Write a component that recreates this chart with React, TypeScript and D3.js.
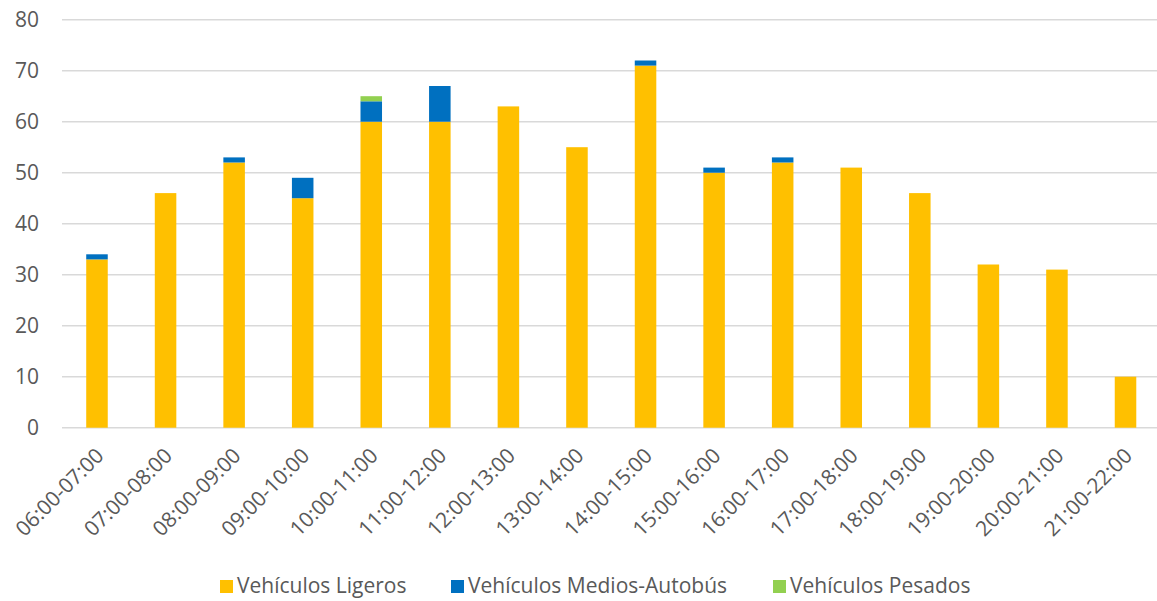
import React from "react";
import * as d3 from "d3";

const categories = [
  "06:00-07:00", "07:00-08:00", "08:00-09:00", "09:00-10:00",
  "10:00-11:00", "11:00-12:00", "12:00-13:00", "13:00-14:00",
  "14:00-15:00", "15:00-16:00", "16:00-17:00", "17:00-18:00",
  "18:00-19:00", "19:00-20:00", "20:00-21:00", "21:00-22:00",
];
const ligeros = [33, 46, 52, 45, 60, 60, 63, 55, 71, 50, 52, 51, 46, 32, 31, 10];
const medios = [1, 0, 1, 4, 4, 7, 0, 0, 1, 1, 1, 0, 0, 0, 0, 0];
const pesados = [0, 0, 0, 0, 1, 0, 0, 0, 0, 0, 0, 0, 0, 0, 0, 0];
const seriesNames = ["Vehículos Ligeros", "Vehículos Medios-Autobús", "Vehículos Pesados"];
const seriesColors = ["#FFC000", "#0070C0", "#92D050"];
const yTicks = [0, 10, 20, 30, 40, 50, 60, 70, 80];

const W = 1157;
const H = 601;
const FONT = "'Open Sans', sans-serif";
const TEXT = "#595959";

export default function App() {
  const x = d3.scaleBand<string>().domain(categories).range([62.7, 1159.8]).padding(0);
  const y = d3.scaleLinear().domain([0, 80]).range([427.7, 19.7]);
  const barW = x.step() * 0.314;

  const table = categories.map((c, i) => ({ cat: c, l: ligeros[i], m: medios[i], p: pesados[i] }));
  const stack = d3.stack<any>().keys(["l", "m", "p"])(table);

  const legendX = [220, 451, 773];

  return (
    <svg width={W} height={H} style={{ position: "absolute", left: 0, top: 0, background: "#fff" }} fontFamily={FONT}>
      {yTicks.map((t) => (
        <g key={t}>
          <line x1={62} x2={W} y1={y(t)} y2={y(t)} stroke="#D9D9D9" strokeWidth={1.5} />
          <text x={39} y={y(t)} dy="0.35em" textAnchor="end" fontSize={21} fill={TEXT}>{t}</text>
        </g>
      ))}
      {stack.map((s, si) => (
        <g key={si} fill={seriesColors[si]}>
          {s.map((d, i) => {
            const h = y(d[0]) - y(d[1]);
            if (h <= 0) return null;
            const cx = (x(categories[i]) as number) + x.step() / 2;
            return <rect key={i} x={cx - barW / 2} y={y(d[1])} width={barW} height={h} />;
          })}
        </g>
      ))}
      {categories.map((c) => {
        const cx = (x(c) as number) + x.step() / 2;
        return (
          <text key={c} transform={`translate(${cx + 8},457) rotate(-45)`} textAnchor="end" fontSize={21} fill={TEXT}>
            {c}
          </text>
        );
      })}
      {seriesNames.map((n, i) => (
        <g key={n}>
          <rect x={legendX[i]} y={580} width={13} height={13} fill={seriesColors[i]} />
          <text x={legendX[i] + 17} y={593} fontSize={21} fill={TEXT}>{n}</text>
        </g>
      ))}
    </svg>
  );
}
